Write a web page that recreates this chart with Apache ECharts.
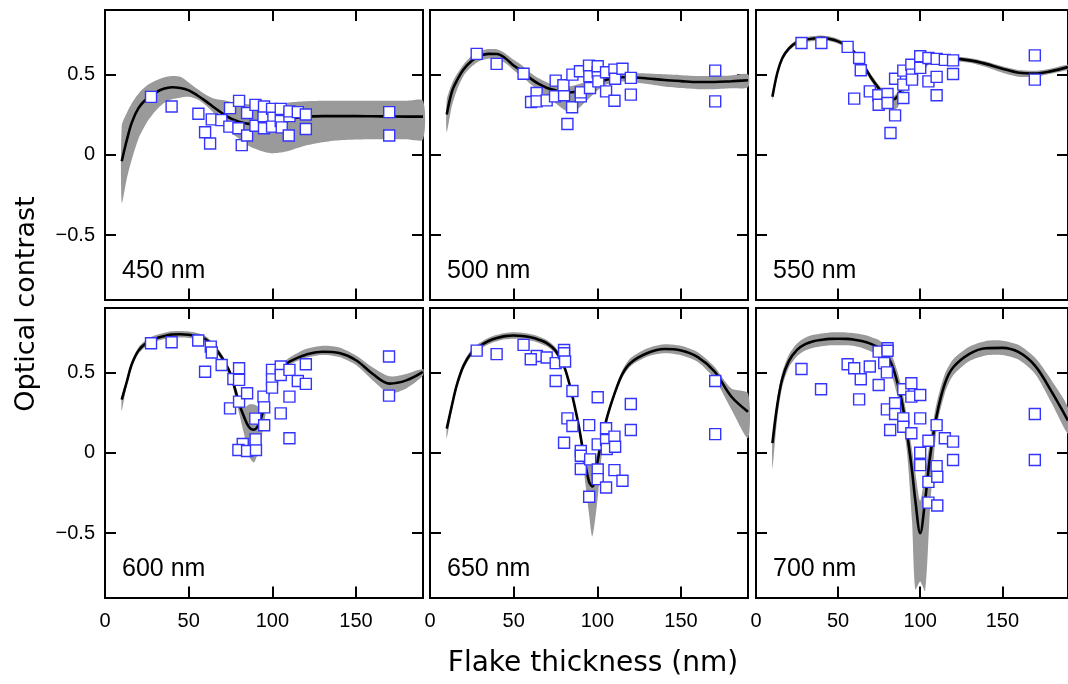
<!DOCTYPE html>
<html><head><meta charset="utf-8">
<script src="https://cdn.jsdelivr.net/npm/echarts@6/dist/echarts.min.js"></script>
<style>html,body{margin:0;padding:0;background:#fff}#c{width:1068px;height:684px}</style>
</head><body><div id="c"></div>
<script>
// Thickness grid (nm) at which the model curves and bands are read
const thickness = [10,13,16,20,25,30,35,40,45,50,55,60,65,70,75,80,83,86,89,92,95,97,100,103,106,110,115,120,130,140,150,160,170,180,190];

const fit450 = [-0.04,0.09,0.20,0.29,0.35,0.385,0.41,0.42,0.415,0.40,0.37,0.335,0.295,0.258,0.226,0.205,0.197,0.192,0.19,0.19,0.192,0.195,0.20,0.206,0.213,0.222,0.232,0.237,0.24,0.24,0.24,0.239,0.238,0.237,0.237];
const hi450  = [0.18,0.26,0.32,0.38,0.43,0.46,0.48,0.49,0.485,0.45,0.41,0.375,0.35,0.34,0.33,0.32,0.317,0.314,0.312,0.31,0.31,0.31,0.313,0.316,0.32,0.325,0.33,0.332,0.335,0.335,0.335,0.335,0.335,0.335,0.335];
const lo450  = [-0.30,-0.15,-0.03,0.10,0.20,0.27,0.32,0.345,0.355,0.36,0.345,0.31,0.26,0.20,0.14,0.10,0.075,0.055,0.04,0.028,0.018,0.013,0.01,0.011,0.015,0.025,0.042,0.058,0.078,0.09,0.095,0.097,0.097,0.096,0.095];

const fit500 = [0.25,0.39,0.46,0.53,0.585,0.615,0.627,0.626,0.60,0.555,0.52,0.475,0.44,0.415,0.40,0.39,0.388,0.39,0.398,0.41,0.425,0.435,0.448,0.46,0.468,0.476,0.482,0.482,0.474,0.465,0.458,0.452,0.452,0.457,0.463];
const hi500  = [0.34,0.44,0.50,0.56,0.615,0.645,0.657,0.656,0.63,0.59,0.555,0.51,0.475,0.45,0.435,0.425,0.425,0.43,0.44,0.45,0.465,0.475,0.485,0.493,0.498,0.505,0.51,0.51,0.505,0.50,0.495,0.49,0.49,0.493,0.50];
const lo500  = [0.14,0.30,0.40,0.49,0.55,0.585,0.597,0.595,0.57,0.525,0.485,0.44,0.40,0.36,0.32,0.28,0.268,0.27,0.29,0.32,0.35,0.37,0.40,0.425,0.44,0.45,0.455,0.453,0.44,0.425,0.415,0.408,0.408,0.413,0.42];

const fit550 = [0.36,0.51,0.60,0.66,0.70,0.715,0.723,0.727,0.72,0.705,0.68,0.635,0.565,0.48,0.41,0.355,0.342,0.36,0.42,0.47,0.51,0.53,0.552,0.565,0.575,0.585,0.594,0.596,0.587,0.565,0.535,0.51,0.505,0.52,0.545];
const hi550  = [0.375,0.525,0.615,0.675,0.715,0.73,0.738,0.742,0.735,0.72,0.695,0.65,0.58,0.50,0.43,0.375,0.36,0.385,0.44,0.485,0.525,0.545,0.567,0.58,0.59,0.60,0.609,0.611,0.602,0.58,0.55,0.527,0.522,0.537,0.56];
const lo550  = [0.34,0.495,0.585,0.645,0.685,0.70,0.708,0.712,0.705,0.69,0.665,0.62,0.545,0.46,0.385,0.31,0.28,0.29,0.36,0.44,0.49,0.515,0.537,0.55,0.56,0.57,0.579,0.581,0.572,0.545,0.51,0.485,0.485,0.505,0.53];

const fit600 = [0.33,0.44,0.55,0.635,0.685,0.71,0.725,0.735,0.737,0.734,0.725,0.706,0.66,0.59,0.49,0.31,0.225,0.16,0.143,0.18,0.28,0.35,0.44,0.50,0.535,0.565,0.59,0.61,0.628,0.62,0.575,0.49,0.43,0.45,0.503];
const hi600  = [0.35,0.46,0.57,0.655,0.705,0.73,0.745,0.755,0.757,0.754,0.745,0.726,0.68,0.61,0.51,0.35,0.28,0.30,0.30,0.29,0.32,0.37,0.46,0.52,0.555,0.59,0.62,0.645,0.665,0.655,0.605,0.53,0.475,0.49,0.52];
const lo600  = [0.26,0.42,0.53,0.615,0.665,0.69,0.705,0.715,0.717,0.714,0.705,0.686,0.64,0.57,0.46,0.25,0.12,-0.02,-0.06,0.02,0.18,0.30,0.41,0.48,0.515,0.545,0.57,0.59,0.608,0.595,0.545,0.45,0.37,0.40,0.48];

const fit650 = [0.15,0.29,0.42,0.54,0.625,0.665,0.695,0.713,0.725,0.729,0.726,0.718,0.703,0.68,0.635,0.54,0.44,0.31,0.16,-0.02,-0.18,-0.21,-0.06,0.105,0.23,0.36,0.49,0.56,0.62,0.645,0.636,0.595,0.505,0.35,0.255];
const hi650  = [0.17,0.31,0.44,0.56,0.645,0.685,0.715,0.733,0.745,0.749,0.746,0.738,0.723,0.70,0.655,0.56,0.46,0.33,0.18,0.02,-0.06,-0.08,0.0,0.13,0.25,0.38,0.515,0.59,0.65,0.675,0.665,0.625,0.535,0.40,0.37];
const lo650  = [0.09,0.26,0.40,0.52,0.605,0.645,0.675,0.693,0.705,0.709,0.706,0.698,0.683,0.66,0.615,0.52,0.42,0.29,0.12,-0.12,-0.38,-0.52,-0.30,0.02,0.19,0.34,0.47,0.54,0.598,0.618,0.606,0.565,0.46,0.27,0.09];

const fit700 = [0.06,0.30,0.46,0.57,0.64,0.675,0.693,0.702,0.708,0.709,0.708,0.703,0.693,0.677,0.652,0.60,0.54,0.44,0.31,0.12,-0.11,-0.295,-0.50,-0.295,-0.025,0.23,0.43,0.53,0.615,0.65,0.652,0.625,0.54,0.38,0.20];
const hi700  = [0.09,0.34,0.50,0.61,0.68,0.715,0.733,0.742,0.748,0.749,0.748,0.743,0.735,0.72,0.70,0.655,0.60,0.51,0.39,0.22,0.02,-0.12,-0.30,-0.12,0.08,0.31,0.49,0.58,0.66,0.695,0.697,0.67,0.59,0.45,0.28];
const lo700  = [-0.10,0.22,0.41,0.53,0.60,0.635,0.653,0.662,0.668,0.669,0.668,0.663,0.65,0.63,0.60,0.54,0.47,0.36,0.22,0.0,-0.42,-0.85,-0.80,-0.86,-0.35,0.15,0.37,0.48,0.57,0.605,0.607,0.578,0.49,0.31,0.12];

// Measured flakes [thickness nm, optical contrast]
const dots450 = [[27.5,0.36],[39.8,0.30],[55.8,0.255],[63.8,0.22],[59.8,0.14],[62.8,0.07],[69.5,0.215],[74.7,0.29],[80.1,0.335],[74.3,0.175],[79.7,0.165],[81.7,0.06],[84.9,0.12],[84.9,0.26],[89.9,0.31],[89.9,0.18],[94.7,0.24],[95,0.30],[95,0.165],[99.8,0.285],[100.6,0.23],[99.8,0.175],[105,0.285],[105,0.21],[105.6,0.17],[109.8,0.12],[110.2,0.24],[110.2,0.27],[115.2,0.265],[120,0.25],[120,0.16],[169.8,0.265],[169.8,0.12]];
const dots500 = [[27.9,0.627],[39.8,0.565],[55.9,0.504],[63.7,0.384],[60.4,0.328],[63.7,0.332],[69.7,0.338],[75.1,0.461],[74.7,0.363],[80.1,0.37],[79.7,0.432],[85.1,0.498],[84.9,0.295],[82.1,0.191],[90.1,0.363],[90.1,0.388],[89.6,0.519],[95,0.554],[95.2,0.488],[95.6,0.415],[100.2,0.513],[100.2,0.55],[100.6,0.456],[105.2,0.513],[105.2,0.394],[110.2,0.529],[110.6,0.473],[110.2,0.336],[115,0.535],[120,0.478],[120,0.374],[170.4,0.523],[170.4,0.332]];
const dots550 = [[27.7,0.695],[39.8,0.695],[55.8,0.671],[62.8,0.602],[63.8,0.525],[59.8,0.349],[69.3,0.394],[74.5,0.37],[74.7,0.311],[80.1,0.378],[80.1,0.322],[84.7,0.473],[84.7,0.245],[81.9,0.135],[89.7,0.436],[89.7,0.353],[89.7,0.523],[94.6,0.56],[95,0.498],[95,0.467],[100,0.581],[100,0.612],[100,0.54],[105,0.602],[105,0.456],[110,0.596],[110,0.484],[110,0.37],[115,0.59],[120,0.587],[120,0.502],[169.8,0.618],[169.8,0.467]];
const dots600 = [[27.5,0.681],[39.8,0.687],[55.7,0.698],[63.2,0.66],[63.8,0.623],[59.8,0.504],[69.7,0.546],[74.7,0.276],[76.7,0.459],[80.1,0.525],[80.1,0.453],[80.1,0.318],[82.3,0.054],[79.7,0.017],[84.9,0.37],[84.9,0.011],[90.2,0.017],[90,0.083],[89.8,0.212],[94.7,0.349],[95.1,0.282],[95.1,0.171],[99.8,0.515],[99.8,0.456],[99.8,0.405],[105,0.536],[105,0.483],[105,0.245],[110.2,0.515],[110.2,0.349],[110.2,0.09],[115.2,0.446],[120,0.55],[120,0.428],[169.7,0.598],[169.7,0.355]];
const dots650 = [[27.9,0.635],[39.8,0.613],[55.9,0.671],[63.8,0.602],[60.2,0.581],[69.7,0.592],[75.1,0.557],[75.1,0.446],[80.1,0.639],[80.1,0.619],[80.7,0.567],[85.1,0.384],[82.1,0.214],[85.1,0.166],[80.1,0.062],[95.1,0.172],[90.1,0.011],[90.1,-0.019],[90.1,-0.101],[95.7,-0.041],[95.1,-0.274],[100.2,0.345],[100.2,0.052],[100.2,-0.104],[100.2,-0.164],[105.2,0.152],[105.2,0.079],[105.6,0.023],[105.2,-0.216],[110.2,0.10],[110.6,0.037],[110.2,-0.108],[115,-0.174],[120,0.303],[120,0.141],[170.4,0.446],[170.4,0.116]];
const dots700 = [[27.7,0.521],[39.6,0.395],[55.8,0.55],[59.8,0.525],[63.8,0.457],[62.8,0.332],[69.3,0.536],[74.7,0.421],[74.7,0.629],[80.1,0.65],[80.1,0.634],[78.1,0.557],[79.7,0.50],[79.7,0.27],[81.7,0.141],[84.7,0.308],[84.7,0.241],[89.7,0.395],[89.7,0.214],[89.7,0.162],[94.6,0.432],[94.6,0.349],[94.6,0.121],[100,0.359],[100,0.214],[100,0.0],[100,-0.077],[105,0.075],[105,-0.181],[105,-0.31],[110,0.172],[110,-0.083],[110.4,-0.149],[110.4,-0.328],[115,0.09],[120,0.069],[120,-0.045],[169.8,0.241],[169.8,-0.045]];

const panelLabels = ['450 nm','500 nm','550 nm','600 nm','650 nm','700 nm'];
const xTickValues = [0,50,100,150];
const yTickValues = [-0.5,0,0.5];

const panels = [
  {fit:fit450, hi:hi450, lo:lo450, dots:dots450},
  {fit:fit500, hi:hi500, lo:lo500, dots:dots500},
  {fit:fit550, hi:hi550, lo:lo550, dots:dots550},
  {fit:fit600, hi:hi600, lo:lo600, dots:dots600},
  {fit:fit650, hi:hi650, lo:lo650, dots:dots650},
  {fit:fit700, hi:hi700, lo:lo700, dots:dots700}
];

const colLeft = [105, 430, 756];
const rowTop = [10, 308];
const W = 318, H = 289.5;
const tickFont = 'Liberation Sans';
const lineBlack = {color:'#000', width:2, cap:'square'};

const grid = [], xAxis = [], yAxis = [], series = [], graphic = [];
panels.forEach((p, i) => {
  const r = Math.floor(i/3), c = i % 3;
  grid.push({left: colLeft[c], top: rowTop[r], width: W, height: H, containLabel:false});
  const xBase = {
    gridIndex: i, type:'value', min:0, max:190,
    axisLine:{show:true, onZero:false, lineStyle:lineBlack},
    axisTick:{show:true, inside:true, length:11, customValues:[50,100,150], lineStyle:{color:'#000', width:2}},
    splitLine:{show:false}
  };
  xAxis.push(Object.assign({}, xBase, {position:'bottom',
    axisLabel:{show: r===1, customValues: xTickValues, fontSize:20, color:'#000', fontFamily:tickFont, margin:14}}));
  xAxis.push(Object.assign({}, xBase, {position:'top', axisLabel:{show:false}}));
  const yBase = {
    gridIndex: i, type:'value', min:-0.9, max:0.9,
    axisLine:{show:true, onZero:false, lineStyle:lineBlack},
    axisTick:{show:true, inside:true, length:11, customValues:yTickValues, lineStyle:{color:'#000', width:2}},
    splitLine:{show:false}
  };
  yAxis.push(Object.assign({}, yBase, {position:'left',
    axisLabel:{show: c===0, customValues: yTickValues, fontSize:20, color:'#000', fontFamily:tickFont, margin:10,
      formatter: v => v < 0 ? '\u2212' + Math.abs(v) : String(v)}}));
  yAxis.push(Object.assign({}, yBase, {position:'right', axisLabel:{show:false}}));

  series.push({
    type:'custom', xAxisIndex:2*i, yAxisIndex:2*i, silent:true, z:1,
    data:[[0,0]],
    renderItem: (params, api) => {
      const pts = [];
      for (let k = 0; k < thickness.length; k++) pts.push(api.coord([thickness[k], p.hi[k]]));
      for (let k = thickness.length - 1; k >= 0; k--) pts.push(api.coord([thickness[k], p.lo[k]]));
      return {type:'polygon', shape:{points:pts, smooth:0.25}, style:{fill:'#9a9a9a', stroke:'none'}};
    }
  });
  series.push({
    type:'line', xAxisIndex:2*i, yAxisIndex:2*i, z:2, silent:true,
    data: thickness.map((x,k) => [x, p.fit[k]]),
    smooth:0.35, symbol:'none', lineStyle:{color:'#000', width:2.6}
  });
  series.push({
    type:'scatter', xAxisIndex:2*i, yAxisIndex:2*i, z:3, silent:true,
    data: p.dots, symbol:'rect', symbolSize:11,
    itemStyle:{color:'#fff', borderColor:'#3434ff', borderWidth:1.4, opacity:1}
  });
  graphic.push({type:'text', x: colLeft[c] + 17, y: rowTop[r] + 261, silent:true,
    style:{text: panelLabels[i], font:'25px "Liberation Sans"', fill:'#000', align:'left', verticalAlign:'middle'}});
});

graphic.push({type:'text', x:27, y:304, rotation:Math.PI/2, silent:true,
  style:{text:'Optical contrast', font:'27px "DejaVu Sans"', fill:'#000', align:'center', verticalAlign:'middle'}});
graphic.push({type:'text', x:593, y:664, silent:true,
  style:{text:'Flake thickness (nm)', font:'28px "DejaVu Sans"', fill:'#000', align:'center', verticalAlign:'middle'}});

const chart = echarts.init(document.getElementById('c'), null, {renderer:'canvas'});
chart.setOption({animation:false, backgroundColor:'#fff', grid, xAxis, yAxis, series, graphic});
</script>
</body></html>
